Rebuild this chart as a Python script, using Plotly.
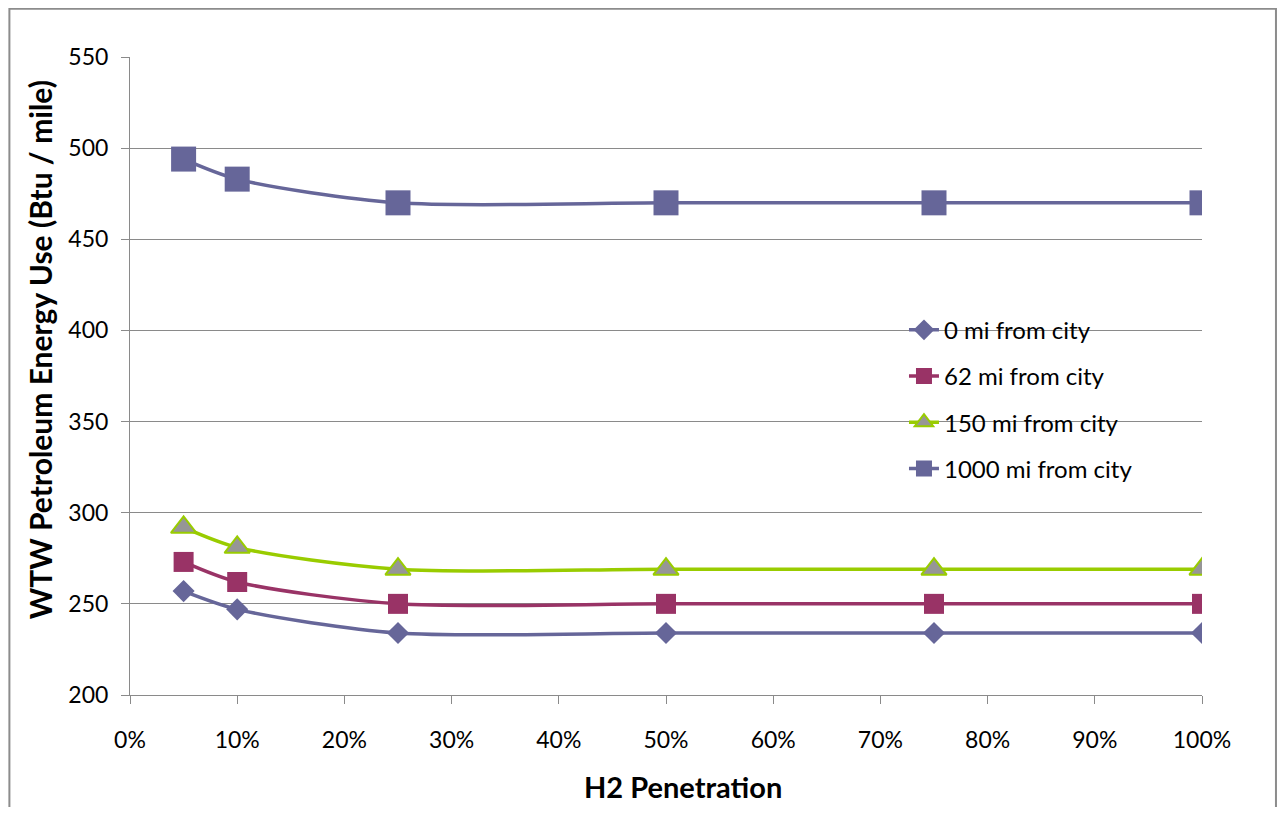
import plotly.graph_objects as go

penetration = [0.05, 0.10, 0.25, 0.50, 0.75, 1.00]
mi0 = [257, 247, 234, 234, 234, 234]
mi62 = [273, 262, 250, 250, 250, 250]
mi150 = [292, 281, 269, 269, 269, 269]
mi1000 = [494, 483, 470, 470, 470, 470]

series_names = ["0 mi from city", "62 mi from city", "150 mi from city", "1000 mi from city"]
x_ticks = [i / 10 for i in range(11)]
x_tick_labels = [f"{i*10}%" for i in range(11)]
y_ticks = [200, 250, 300, 350, 400, 450, 500, 550]

FONT = "Lato"
GRID = "#8a8a8a"

fig = go.Figure()
styles = [
    dict(line_color="#666699", marker=dict(symbol="diamond", size=17, color="#666699")),
    dict(line_color="#993366", marker=dict(symbol="square", size=20, color="#993366")),
    dict(line_color="#99cc00", marker=dict(symbol="triangle-up", size=22, color="#969696",
                                           line=dict(color="#99cc00", width=2))),
    dict(line_color="#666699", marker=dict(symbol="square", size=25, color="#666699")),
]
for name, ys, st in zip(series_names, [mi0, mi62, mi150, mi1000], styles):
    fig.add_trace(go.Scatter(
        x=penetration, y=ys, name=name, mode="lines+markers",
        line=dict(color=st["line_color"], width=3.5, shape="spline", smoothing=0.8),
        marker=st["marker"], legendgroup=name,
    ))

fig.update_layout(
    width=1269, height=799,
    margin=dict(l=122, r=75, t=49, b=112),
    paper_bgcolor="white", plot_bgcolor="white",
    font=dict(family=FONT, size=23, color="black"),
    showlegend=True,
    legend=dict(x=0.722, y=0.607, xanchor="left", yanchor="top",
                font=dict(family=FONT, size=24, color="black"),
                tracegroupgap=12, bgcolor="rgba(0,0,0,0)", itemwidth=30),
    xaxis=dict(range=[0, 1], tickvals=x_ticks, ticktext=x_tick_labels,
               showgrid=False, zeroline=False, showline=True, linecolor=GRID, linewidth=1,
               ticks="outside", ticklen=8, tickcolor=GRID, tickfont=dict(size=23),
               ticklabelstandoff=16),
    yaxis=dict(range=[200, 550], tickvals=y_ticks, showgrid=True, gridcolor=GRID, gridwidth=1,
               zeroline=False, showline=True, linecolor=GRID, linewidth=1,
               ticks="outside", ticklen=8, tickcolor=GRID, tickfont=dict(size=23),
               ticklabelstandoff=8),
    annotations=[
        dict(text="<b>H2 Penetration</b>", xref="paper", yref="paper", x=0.516, y=-0.144,
             xanchor="center", yanchor="middle", showarrow=False, font=dict(size=29)),
        dict(text="<b>WTW Petroleum Energy Use (Btu / mile)</b>", xref="paper", yref="paper",
             x=-0.084, y=0.542, xanchor="center", yanchor="middle", textangle=-90,
             showarrow=False, font=dict(size=30)),
    ],
    shapes=[dict(type="rect", xref="paper", yref="paper", x0=-0.1125, x1=1.069,
                 y0=-0.3, y1=1.0755, line=dict(color="#8c8c8c", width=2), layer="below")],
)

fig.write_html("out.html")
